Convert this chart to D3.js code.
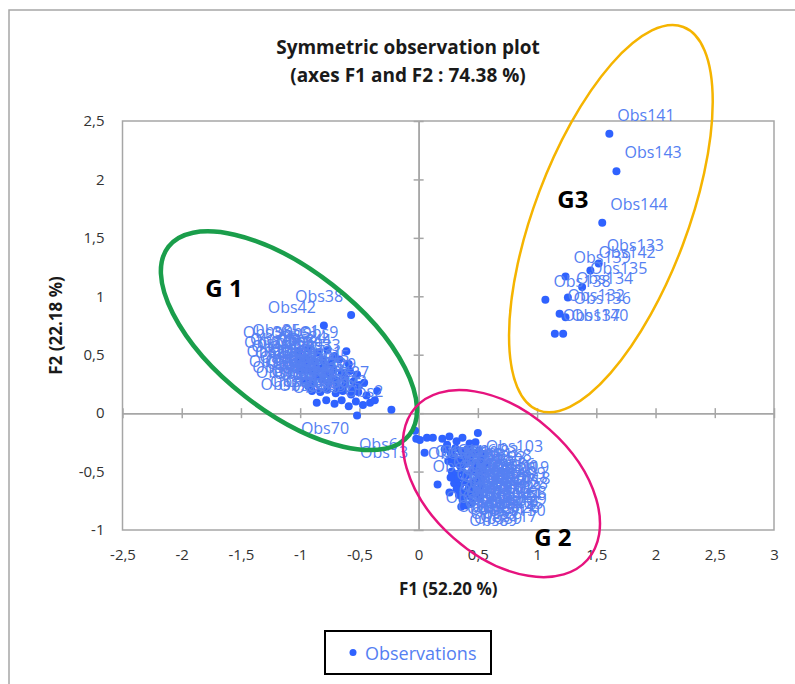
<!DOCTYPE html>
<html>
<head>
<meta charset="utf-8">
<script src="https://cdn.jsdelivr.net/npm/d3@7"></script>
<style>
  body { margin: 0; background: #fff; }
  text { font-family: "Open Sans", sans-serif; }
</style>
</head>
<body>
<div id="chart"></div>
<script>
// observations per group: [label, F1, F2]
const groupG1 = [
  ["Obs36", -1.01, 0.53], ["Obs35", -0.93, 0.55], ["Obs5", -0.85, 0.52], ["Obs1", -0.77, 0.54],
  ["Obs9", -0.61, 0.53], ["Obs12", -1.00, 0.45], ["Obs18", -0.95, 0.47], ["Obs20", -0.88, 0.44],
  ["Obs8", -0.81, 0.46], ["Obs40", -0.74, 0.43], ["Obs44", -0.67, 0.46], ["Obs33", -0.59, 0.42],
  ["Obs21", -0.98, 0.37], ["Obs24", -0.91, 0.36], ["Obs3", -0.85, 0.38], ["Obs10", -0.79, 0.35],
  ["Obs47", -0.72, 0.37], ["Obs26", -0.65, 0.34], ["Obs31", -0.58, 0.36], ["Obs45", -0.52, 0.33],
  ["Obs16", -0.96, 0.28], ["Obs4", -0.89, 0.27], ["Obs23", -0.82, 0.29], ["Obs48", -0.76, 0.26],
  ["Obs11", -0.69, 0.28], ["Obs37", -0.62, 0.25], ["Obs30", -0.55, 0.27], ["Obs29", -0.46, 0.26],
  ["Obs19", -0.90, 0.19], ["Obs6", -0.83, 0.18], ["Obs41", -0.77, 0.20], ["Obs14", -0.70, 0.17],
  ["Obs49", -0.64, 0.19], ["Obs25", -0.57, 0.16], ["Obs7", -0.51, 0.18], ["Obs43", -0.44, 0.15],
  ["Obs27", -0.35, 0.19], ["Obs17", -0.86, 0.09], ["Obs46", -0.78, 0.11], ["Obs28", -0.71, 0.08],
  ["Obs34", -0.65, 0.11], ["Obs39", -0.59, 0.06], ["Obs50", -0.53, 0.10], ["Obs32", -0.47, 0.07],
  ["Obs15", -0.41, 0.09], ["Obs22", -0.37, 0.11], ["Obs2", -0.23, 0.03], ["Obs70", -0.52, -0.02],
  ["Obs38", -0.57, 0.84], ["Obs42", -0.80, 0.75], ["Obs51", -0.94, 0.41], ["Obs52", -0.87, 0.32],
  ["Obs55", -0.80, 0.40], ["Obs62", -0.74, 0.31], ["Obs64", -0.68, 0.22], ["Obs69", -0.62, 0.30],
  ["Obs73", -0.56, 0.21], ["Obs84", -0.71, 0.49], ["Obs88", -0.93, 0.23], ["Obs92", -0.50, 0.24]
];
const groupG2 = [
  ["Obs61", -0.03, -0.15], ["Obs13", -0.02, -0.22], ["Obs58", 0.01, -0.23], ["Obs94", 0.07, -0.21],
  ["Obs99", 0.12, -0.21], ["Obs80", 0.05, -0.34], ["Obs82", 0.16, -0.61], ["Obs54", 0.26, -0.68],
  ["Obs60", 0.20, -0.22], ["Obs65", 0.26, -0.20], ["Obs81", 0.32, -0.24], ["Obs83", 0.37, -0.21],
  ["Obs93", 0.43, -0.26], ["Obs103", 0.50, -0.17], ["Obs68", 0.48, -0.25], ["Obs63", 0.22, -0.31],
  ["Obs72", 0.27, -0.34], ["Obs90", 0.31, -0.30], ["Obs95", 0.36, -0.33], ["Obs97", 0.41, -0.31],
  ["Obs100", 0.46, -0.34], ["Obs56", 0.51, -0.32], ["Obs119", 0.55, -0.35], ["Obs67", 0.25, -0.41],
  ["Obs85", 0.29, -0.43], ["Obs96", 0.34, -0.40], ["Obs107", 0.38, -0.44], ["Obs74", 0.43, -0.41],
  ["Obs79", 0.48, -0.43], ["Obs109", 0.52, -0.40], ["Obs118", 0.56, -0.44], ["Obs66", 0.28, -0.50],
  ["Obs76", 0.32, -0.52], ["Obs86", 0.36, -0.49], ["Obs101", 0.41, -0.53], ["Obs112", 0.45, -0.50],
  ["Obs121", 0.50, -0.52], ["Obs128", 0.54, -0.49], ["Obs71", 0.30, -0.60], ["Obs78", 0.35, -0.62],
  ["Obs104", 0.39, -0.59], ["Obs115", 0.44, -0.61], ["Obs124", 0.48, -0.58], ["Obs129", 0.53, -0.62],
  ["Obs75", 0.34, -0.70], ["Obs98", 0.38, -0.68], ["Obs111", 0.43, -0.71], ["Obs126", 0.47, -0.69],
  ["Obs130", 0.52, -0.72], ["Obs53", 0.30, -0.37], ["Obs87", 0.40, -0.38], ["Obs105", 0.47, -0.47],
  ["Obs113", 0.33, -0.56], ["Obs123", 0.42, -0.65], ["Obs77", 0.51, -0.46], ["Obs91", 0.24, -0.27],
  ["Obs57", 0.37, -0.74], ["Obs89", 0.36, -0.80], ["Obs59", 0.40, -0.79], ["Obs117", 0.45, -0.77],
  ["Obs102", 0.35, -0.45], ["Obs106", 0.44, -0.36], ["Obs108", 0.53, -0.56], ["Obs110", 0.39, -0.53],
  ["Obs114", 0.32, -0.65], ["Obs116", 0.46, -0.64], ["Obs120", 0.27, -0.55], ["Obs125", 0.50, -0.66]
];
const groupG3 = [
  ["Obs141", 1.61, 2.39], ["Obs143", 1.67, 2.07], ["Obs144", 1.55, 1.63], ["Obs133", 1.52, 1.28],
  ["Obs142", 1.45, 1.22], ["Obs135", 1.38, 1.08], ["Obs139", 1.24, 1.17], ["Obs134", 1.26, 0.99],
  ["Obs138", 1.07, 0.97], ["Obs132", 1.19, 0.85], ["Obs136", 1.24, 0.82], ["Obs137", 1.15, 0.68],
  ["Obs140", 1.22, 0.68]
];
const xTicks = [-2.5, -2, -1.5, -1, -0.5, 0, 0.5, 1, 1.5, 2, 2.5, 3];
const yTicks = [-1, -0.5, 0, 0.5, 1, 1.5, 2, 2.5];
const groupLabels = ["G 1", "G 2", "G3"];
// hand-drawn group ellipses, in F1 / F2 units
const ellipseCx = [-1.095, 0.699, 1.623];
const ellipseCy = [0.62, -0.603, 1.664];
const ellipseRx = [1.29, 0.97, 1.73];
const ellipseRy = [0.598, 0.612, 0.646];
const ellipseAngle = [38, 41.5, -69.3];
const groupLabelX = [-1.643, 1.133, 1.302];
const groupLabelY = [0.992, -1.138, 1.754];

const width = 795, height = 684;
const ellipseColors = ["#1a9e4b", "#e6137e", "#f5b400"];
const ellipseWidths = [4.5, 2.5, 2.5];
const gridColor = "#a6a6a6";
const dotColor = "#2f62ff";
const labelColor = "#5580f2";

const svg = d3.select("#chart").append("svg")
    .attr("width", width)
    .attr("height", height);

const x = d3.scaleLinear().domain([-2.5, 3]).range([122.5, 774]);
const y = d3.scaleLinear().domain([-1, 2.5]).range([530, 121]);
const fmt = d => String(d).replace(".", ",");

// outer frame of the figure
svg.append("rect")
    .attr("x", 9).attr("y", 10)
    .attr("width", 820).attr("height", 720)
    .attr("fill", "none")
    .attr("stroke", gridColor)
    .attr("stroke-width", 1.5);

// plot area border
svg.append("rect")
    .attr("x", x(-2.5)).attr("y", y(2.5))
    .attr("width", x(3) - x(-2.5))
    .attr("height", y(-1) - y(2.5))
    .attr("fill", "none")
    .attr("stroke", gridColor)
    .attr("stroke-width", 1.5);

// zero lines with cross ticks
const zx = svg.append("g").attr("transform", `translate(0,${y(0)})`);
zx.append("g").call(d3.axisBottom(x).tickValues(xTicks).tickSize(5).tickSizeOuter(0).tickFormat(""));
zx.append("g").call(d3.axisTop(x).tickValues(xTicks).tickSize(5).tickSizeOuter(0).tickFormat(""));
const zy = svg.append("g").attr("transform", `translate(${x(0)},0)`);
zy.append("g").call(d3.axisLeft(y).tickValues(yTicks).tickSize(5).tickSizeOuter(0).tickFormat(""));
zy.append("g").call(d3.axisRight(y).tickValues(yTicks).tickSize(5).tickSizeOuter(0).tickFormat(""));
svg.selectAll(".domain, .tick line")
    .attr("stroke", gridColor)
    .attr("stroke-width", 1.5);

// tick labels outside the plot
const xLab = svg.append("g")
    .attr("transform", `translate(0,${y(-1)})`)
    .call(d3.axisBottom(x).tickValues(xTicks).tickSize(0).tickPadding(19).tickFormat(fmt));
const yLab = svg.append("g")
    .attr("transform", `translate(${x(-2.5)},0)`)
    .call(d3.axisLeft(y).tickValues(yTicks).tickSize(0).tickPadding(18).tickFormat(fmt));
[xLab, yLab].forEach(g => {
    g.select(".domain").remove();
    g.attr("font-family", null).attr("font-size", null);
    g.selectAll("text").attr("font-size", "15px").attr("fill", "#333");
});

// observations
const allObs = [...groupG1, ...groupG2, ...groupG3];
svg.append("g").selectAll("circle")
    .data(allObs)
    .enter()
    .append("circle")
    .attr("cx", d => x(d[1]))
    .attr("cy", d => y(d[2]))
    .attr("r", 4)
    .attr("fill", dotColor);

svg.append("g").selectAll("text")
    .data(allObs)
    .enter()
    .append("text")
    .text(d => d[0])
    .attr("x", d => d[1] < 0 ? x(d[1]) - 8 : x(d[1]) + 8)
    .attr("y", d => d[2] >= 0 ? y(d[2]) - 19 : y(d[2]) + 13)
    .attr("text-anchor", d => d[1] < 0 ? "end" : "start")
    .attr("dominant-baseline", "central")
    .attr("font-size", "16px")
    .attr("fill", labelColor);

// group ellipses and names
groupLabels.forEach((name, i) => {
    const cx = x(ellipseCx[i]), cy = y(ellipseCy[i]);
    svg.append("ellipse")
        .attr("cx", cx).attr("cy", cy)
        .attr("rx", x(ellipseCx[i] + ellipseRx[i]) - cx)
        .attr("ry", x(ellipseCx[i] + ellipseRy[i]) - cx)
        .attr("transform", `rotate(${ellipseAngle[i]},${cx},${cy})`)
        .attr("fill", "none")
        .attr("stroke", ellipseColors[i])
        .attr("stroke-width", ellipseWidths[i]);
    svg.append("text")
        .attr("x", x(groupLabelX[i]))
        .attr("y", y(groupLabelY[i]))
        .attr("text-anchor", "middle")
        .attr("font-size", "24px")
        .attr("font-weight", "bold")
        .attr("fill", "#000")
        .text(name);
});

// titles
svg.append("text")
    .attr("x", 408).attr("y", 47)
    .attr("text-anchor", "middle").attr("dominant-baseline", "central")
    .attr("font-size", "19px").attr("font-weight", "bold").attr("fill", "#1a1a1a")
    .text("Symmetric observation plot");
svg.append("text")
    .attr("x", 408).attr("y", 75)
    .attr("text-anchor", "middle").attr("dominant-baseline", "central")
    .attr("font-size", "19px").attr("font-weight", "bold").attr("fill", "#1a1a1a")
    .text("(axes F1 and F2 : 74.38 %)");

svg.append("text")
    .attr("x", (x(-2.5) + x(3)) / 2).attr("y", 588)
    .attr("text-anchor", "middle").attr("dominant-baseline", "central")
    .attr("font-size", "17px").attr("font-weight", "bold").attr("fill", "#1a1a1a")
    .text("F1 (52.20 %)");
svg.append("text")
    .attr("transform", `translate(55,${(y(-1) + y(2.5)) / 2}) rotate(-90)`)
    .attr("text-anchor", "middle").attr("dominant-baseline", "central")
    .attr("font-size", "17px").attr("font-weight", "bold").attr("fill", "#1a1a1a")
    .text("F2 (22.18 %)");

// legend
const legend = svg.append("g").attr("transform", "translate(325,631)");
legend.append("rect")
    .attr("width", 166).attr("height", 43)
    .attr("fill", "#fff")
    .attr("stroke", "#000")
    .attr("stroke-width", 2);
legend.append("circle")
    .attr("cx", 28).attr("cy", 21.5).attr("r", 3.5)
    .attr("fill", dotColor);
legend.append("text")
    .attr("x", 40).attr("y", 21.5)
    .attr("dominant-baseline", "central")
    .attr("font-size", "18px")
    .attr("fill", labelColor)
    .text("Observations");
</script>
</body>
</html>
